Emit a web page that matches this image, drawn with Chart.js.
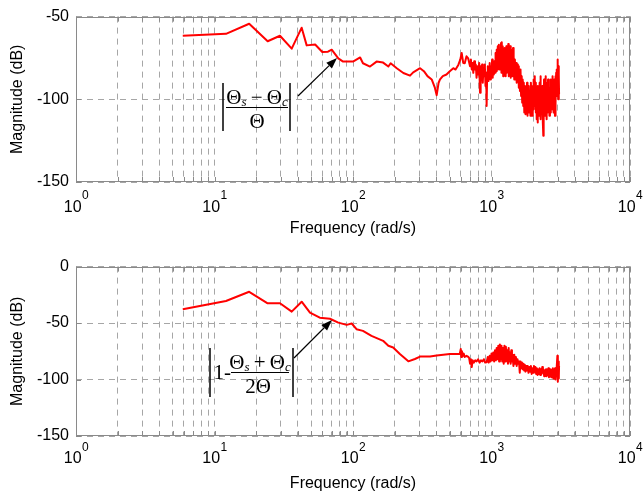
<!DOCTYPE html>
<html><head><meta charset="utf-8">
<script src="https://cdn.jsdelivr.net/npm/chart.js@4.4.1/dist/chart.umd.min.js"></script>
<style>
html,body{margin:0;padding:0;background:#fff;}
#wrap{position:relative;width:644px;height:500px;}
canvas{position:absolute;left:0;}
</style></head><body>
<div id="wrap">
<canvas id="c1" width="644" height="250" style="top:0;width:644px;height:250px"></canvas>
<canvas id="c2" width="644" height="250" style="top:250px;width:644px;height:250px"></canvas>
</div>
<script>
// ---- data ----
const freqTop = [5.9,12.1,17.8,24.2,29.7,36.1,42.6,46.3,53.3,60,66,70.2,78.3,84.8,100,112.6,118,132.7,148,165,180,187,207,231,258,272,305,325,345,370,390,402,415,425,445,473,500,530,550,576,595,609,625,641,660,679,
700,710,720,730,739,750,760,770,780,790,804,815,826,835,845,855,865,875,885,895,905,915,922,930,940,950,960,970,980,990,1000,1010,1020,1030,1040,1050,1061,1070,1080,1090,1100,1110,1120,1130,1140,1150,1160,1170,1180,1186,1195,1205,1215,1225,1235,1245,1253,1262,1270,1280,1290,1300,1310,1322,1332,1342,1352,1362,1372,1382,1392,1400,1410,1420,1430,1440,1450,1460,1475,1490,1505,1520,1535,1550,1563,1575,1590,1605,1620,1636,1652,1666,1680,1695,1710,1725,1745,1760,1775,1790,1805,1820,1835,1850,1865,1880,1895,1910,1925,1940,1955,1970,1985,2000,2015,2030,2045,2060,2075,2090,2105,2120,2135,2150,2165,2180,2195,2210,2225,2240,2255,2270,2290,2310,2330,2348,2366,2380,2395,2410,2425,2440,2455,2470,2485,2500,2520,2540,2560,2580,2600,2620,2643,2660,2680,2700,2720,2740,2760,2780,2800,2820,2840,2860,2874,2890,2910,2930,2950,2965,2980,2990,3000,3010,3020,3035,3050,3060,3070,3075];
const magTop = [-61.6,-60.4,-54.3,-64.9,-61.6,-69.4,-56.7,-67.4,-66.9,-71.4,-71.2,-70.0,-75.3,-77.2,-77.2,-74.7,-78.2,-80.2,-77.2,-77.8,-80.2,-78.2,-81.2,-84.1,-85.7,-83.7,-81.2,-83,-86,-88,-93,-97.5,-90,-88,-86,-85,-83,-81.2,-82,-79.2,-76,-72,-78,-78.2,-74,-75.3,
-80,-76,-82,-78,-84,-77,-82,-79,-87,-80,-85,-78,-96,-80,-88,-79,-90,-81,-86,-79,-92,-84,-104,-86,-80,-89,-82,-78,-88,-80,-86,-76,-87,-79,-85,-77,-84,-72,-83,-70,-82,-68,-80,-67,-82,-70,-79,-66,-84,-65.5,-80,-68,-86,-70,-82,-69,-78,-72,-86,-68,-84,-70,-80,-66.5,-86,-70,-82,-68,-87,-72,-84,-76,-70,-86,-69,-84,-74,-88,-76,-86,-78,-90,-79,-86,-80,-93,-84,-95,-82,-98,-86,-102,-88,-104,-90,-108,-92,-109,-94,-106,-90,-110,-95,-108,-92,-106,-96,-110,-90,-104,-94,-110,-92,-106,-88,-104,-86,-100,-90,-108,-94,-112,-96,-114,-92,-106,-94,-110,-90,-104,-86,-112,-96,-108,-92,-114,-122,-100,-88,-104,-92,-110,-86,-106,-94,-112,-90,-108,-88,-104,-92,-110,-94,-108,-88,-104,-90,-106,-86,-104,-92,-108,-88,-106,-110,-86,-102,-84,-98,-82,-96,-78,-76,-98,-82,-100,-80,-99,-85,-97];

const freqBottom = [5.9,12.1,17.8,24.2,29.7,36.1,42.6,48.9,57.6,68.2,78.3,90,97.9,106,118,136,165,180,195,218,251,280,305,360,402,500,
590,600,605,612,620,630,640,660,680,690,700,710,720,730,745,763,780,800,820,840,860,880,900,922,940,955,970,985,1000,1015,1030,1045,1060,1075,1090,1105,1120,1135,1150,1165,1180,1195,1210,1225,1240,1255,1270,1285,1300,1315,1330,1345,1360,1375,1390,1405,1420,1440,1460,1480,1500,1520,1540,1560,1580,1600,1620,1640,1660,1680,1700,1720,1740,1760,1780,1800,1825,1850,1875,1900,1925,1950,1975,2000,2025,2050,2075,2100,2125,2150,2175,2200,2225,2250,2275,2300,2325,2350,2375,2400,2425,2450,2475,2500,2525,2550,2575,2600,2625,2650,2675,2700,2725,2750,2775,2800,2825,2850,2875,2900,2925,2950,2970,2990,3005,3020,3035,3050,3060,3070,3075];
const magBottom = [-37.8,-30.5,-22.3,-32.5,-32.5,-39.9,-31.1,-40.8,-45.2,-46.2,-49.6,-51.6,-50.4,-55.4,-56.9,-61.3,-65.7,-70.1,-71.6,-77.4,-83.9,-81.8,-79.7,-79.7,-78.8,-77.4,
-77.4,-73,-80,-75,-79,-77,-80,-79,-80,-81,-86,-82,-89,-83,-85,-83,-84,-82,-85,-83,-84,-82,-85,-84.7,-80,-85,-79,-84,-77,-83,-76,-84,-74,-83,-72,-82,-70,-84,-69,-82,-70,-84,-72,-86,-70,-84,-71,-82,-74,-86,-72,-84,-76,-86,-74,-84,-78,-88,-78,-86,-80,-88,-82,-86,-84,-94,-84,-90,-85,-91,-86,-92,-87,-93,-88,-92,-88,-94,-89,-93,-88,-95,-90,-94,-88,-93,-89,-95,-90,-96,-91,-95,-90,-96,-91,-95,-89,-94,-91,-97,-92,-96,-91,-97,-92,-96,-90,-98,-92,-97,-91,-98,-92,-97,-90,-99,-92,-98,-90,-100,-91,-97,-88,-79,-98,-102,-86,-97,-84,-99,-88];

const xDecades = [1, 10, 100, 1000, 10000];
const xDecadeExponents = ['0', '1', '2', '3', '4'];
const xMinorMultipliers = [2, 3, 4, 5, 6, 7, 8, 9];
const yTicksTop = [-150, -100, -50];
const yTicksBottom = [-150, -100, -50, 0];
const xTitle = 'Frequency (rad/s)';
const yTitle = 'Magnitude (dB)';

// ---- helpers ----
const SANS = '"Liberation Sans", Arial, sans-serif';
const SERIF = '"Liberation Serif", "Times New Roman", serif';
const BOX = '#8a8a8a';

function xTickValues() {
  const out = [];
  xDecades.forEach((d, i) => {
    out.push({value: d, major: true});
    if (i < xDecades.length - 1) xMinorMultipliers.forEach(m => out.push({value: d * m, major: false}));
  });
  return out;
}

function drawRun(ctx, items, cx, baseline) {
  let total = 0;
  items.forEach(it => { ctx.font = it.font; it.w = ctx.measureText(it.t).width; total += it.w; });
  let x = cx - total / 2;
  items.forEach(it => { ctx.font = it.font; ctx.fillText(it.t, x, baseline + (it.dy || 0)); x += it.w; });
}

function arrow(ctx, x1, y1, x2, y2) {
  ctx.save();
  ctx.strokeStyle = '#000'; ctx.fillStyle = '#000'; ctx.lineWidth = 1.2;
  const a = Math.atan2(y2 - y1, x2 - x1), L = 11, W = 4;
  const bx = x2 - L * Math.cos(a), by = y2 - L * Math.sin(a);
  ctx.beginPath(); ctx.moveTo(x1, y1); ctx.lineTo(bx, by); ctx.stroke();
  ctx.beginPath();
  ctx.moveTo(x2, y2);
  ctx.lineTo(bx + W * Math.sin(a), by - W * Math.cos(a));
  ctx.lineTo(bx - W * Math.sin(a), by + W * Math.cos(a));
  ctx.closePath(); ctx.fill();
  ctx.restore();
}

function vbar(ctx, x, y1, y2) {
  ctx.beginPath(); ctx.moveTo(x, y1); ctx.lineTo(x, y2); ctx.stroke();
}

const MAIN = '21px ' + SERIF;
const SUB = 'italic 13px ' + SERIF;
const THIN = '\u2009';

function formulaTop(ctx) {
  ctx.save();
  ctx.fillStyle = '#000'; ctx.strokeStyle = '#000'; ctx.textAlign = 'left'; ctx.textBaseline = 'alphabetic';
  drawRun(ctx, [{t:'\u0398',font:MAIN},{t:'s',font:SUB,dy:2.5},{t:THIN+'\u2212'+THIN,font:MAIN},{t:'\u0398',font:MAIN},{t:'c',font:SUB,dy:2.5}], 257, 103.5);
  drawRun(ctx, [{t:'\u0398',font:MAIN}], 257, 128);
  ctx.lineWidth = 1;
  ctx.beginPath(); ctx.moveTo(226, 107.5); ctx.lineTo(288, 107.5); ctx.stroke();
  ctx.lineWidth = 1.5;
  vbar(ctx, 223, 83, 131);
  vbar(ctx, 290, 83, 131);
  ctx.restore();
  arrow(ctx, 298, 96, 337, 58);
}

function formulaBottom(ctx) {
  ctx.save();
  ctx.fillStyle = '#000'; ctx.strokeStyle = '#000'; ctx.textAlign = 'left'; ctx.textBaseline = 'alphabetic';
  ctx.font = MAIN;
  ctx.fillText('1-', 213.5, 129);
  drawRun(ctx, [{t:'\u0398',font:MAIN},{t:'s',font:SUB,dy:2.5},{t:THIN+'+'+THIN,font:MAIN},{t:'\u0398',font:MAIN},{t:'c',font:SUB,dy:2.5}], 260, 118.5);
  drawRun(ctx, [{t:'2\u0398',font:MAIN}], 258, 143);
  ctx.lineWidth = 1;
  ctx.beginPath(); ctx.moveTo(231, 122.5); ctx.lineTo(289, 122.5); ctx.stroke();
  ctx.lineWidth = 1.5;
  vbar(ctx, 210, 98, 147);
  vbar(ctx, 293, 98, 147);
  ctx.restore();
  arrow(ctx, 294, 108, 332, 70);
}

const framePlugin = {
  id: 'frame',
  afterDraw(chart, args, opts) {
    const ctx = chart.ctx, a = chart.chartArea;
    const xs = chart.scales.x, ys = chart.scales.y;
    ctx.save();
    ctx.strokeStyle = BOX; ctx.lineWidth = 1;
    ctx.strokeRect(Math.round(a.left) + 0.5, Math.round(a.top) + 0.5, Math.round(a.right - a.left) - 1, Math.round(a.bottom - a.top) - 1);
    ctx.beginPath();
    xTickValues().forEach(t => {
      const px = Math.round(xs.getPixelForValue(t.value)) + 0.5;
      ctx.moveTo(px, a.bottom); ctx.lineTo(px, a.bottom - 5);
      ctx.moveTo(px, a.top); ctx.lineTo(px, a.top + 5);
    });
    opts.yTicks.forEach(v => {
      const py = Math.round(ys.getPixelForValue(v)) + 0.5;
      ctx.moveTo(a.left, py); ctx.lineTo(a.left + 5, py);
      ctx.moveTo(a.right, py); ctx.lineTo(a.right - 5, py);
    });
    ctx.stroke();
    ctx.fillStyle = '#000'; ctx.textAlign = 'left'; ctx.textBaseline = 'alphabetic';
    xDecades.forEach((d, i) => {
      const px = xs.getPixelForValue(d);
      ctx.font = '16px ' + SANS;
      const w1 = ctx.measureText('10').width;
      ctx.font = '12px ' + SANS;
      const w2 = ctx.measureText(xDecadeExponents[i]).width;
      const x0 = px - (w1 + w2) / 2;
      ctx.font = '16px ' + SANS;
      ctx.fillText('10', x0, a.bottom + opts.baseOff);
      ctx.font = '12px ' + SANS;
      ctx.fillText(xDecadeExponents[i], x0 + w1 + 0.5, a.bottom + opts.expOff);
    });
    ctx.restore();
    opts.formula(ctx);
  }
};

function makeChart(id, freq, mag, yTicks, cfg) {
  const pts = freq.map((f, i) => ({x: f, y: mag[i]}));
  return new Chart(document.getElementById(id), {
    type: 'line',
    data: {datasets: [{data: pts, borderColor: '#ff0000', borderWidth: 2, pointRadius: 0, tension: 0, fill: false, borderJoinStyle: 'round'}]},
    options: {
      responsive: false, animation: false, devicePixelRatio: 1,
      layout: {padding: {left: 0, right: 14, top: cfg.top, bottom: 0}},
      plugins: {legend: {display: false}, tooltip: {enabled: false},
        frame: {yTicks: yTicks, baseOff: cfg.baseOff, expOff: cfg.expOff, formula: cfg.formula}},
      scales: {
        x: {
          type: 'logarithmic', min: xDecades[0], max: xDecades[xDecades.length - 1],
          afterBuildTicks: s => { s.ticks = xTickValues(); },
          afterFit: s => { s.height = cfg.xHeight; },
          ticks: {display: false},
          grid: {color: '#a6a6a6', lineWidth: 1, drawTicks: false},
          border: {display: false, dash: [6, 5]},
          title: {display: true, text: xTitle, color: '#000', font: {family: SANS, size: 16}, padding: {top: 0, bottom: cfg.titlePad}}
        },
        y: {
          min: yTicks[0], max: yTicks[yTicks.length - 1],
          afterBuildTicks: s => { s.ticks = yTicks.map(v => ({value: v})); },
          afterFit: s => { s.width = 76; },
          ticks: {color: '#000', font: {family: SANS, size: 16}, padding: 7, callback: v => String(v)},
          grid: {color: '#a6a6a6', lineWidth: 1, drawTicks: false},
          border: {display: false, dash: [6, 5]},
          title: {display: true, text: yTitle, color: '#000', font: {family: SANS, size: 16}, padding: {top: 8, bottom: 0}}
        }
      }
    },
    plugins: [framePlugin]
  });
}

makeChart('c1', freqTop, magTop, yTicksTop, {top: 12, xHeight: 68, titlePad: 12, baseOff: 30, expOff: 17, formula: formulaTop});
makeChart('c2', freqBottom, magBottom, yTicksBottom, {top: 15, xHeight: 64, titlePad: 7, baseOff: 27, expOff: 15, formula: formulaBottom});
</script>
</body></html>
